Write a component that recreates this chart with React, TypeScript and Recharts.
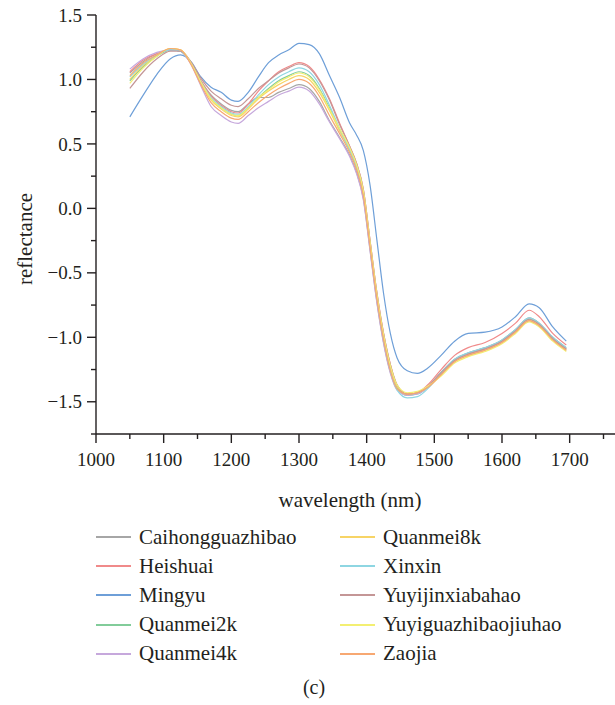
import { LineChart, Line, XAxis, YAxis, Label } from 'recharts';

const FONT = "'Liberation Serif', 'DejaVu Serif', serif";
const INK = '#231f20';

// wavelengths (nm)
const wavelengths = [
  1050, 1070, 1090, 1110, 1125, 1140, 1155, 1170, 1185, 1200, 1210, 1225, 1240, 1255, 1270, 1285, 1300, 1315, 1330, 1345,
  1360, 1375, 1385, 1395, 1405, 1415, 1425, 1435, 1445, 1460, 1475, 1490, 1510, 1530, 1550, 1575, 1600, 1620, 1640, 1655,
  1675, 1695
];

const caihongguazhibao = [
  1.05, 1.14, 1.2, 1.23, 1.22, 1.13, 0.99, 0.88, 0.81, 0.76, 0.75, 0.81, 0.86, 0.86, 0.9, 0.93, 0.96, 0.93, 0.83, 0.68,
  0.55, 0.41, 0.28, 0.08, -0.32, -0.72, -1.04, -1.27, -1.4, -1.44, -1.43, -1.38, -1.27, -1.17, -1.12, -1.08, -1.02, -0.94,
  -0.85, -0.89, -1.0, -1.08
];
const heishuai = [
  1.06, 1.15, 1.2, 1.23, 1.22, 1.13, 0.99, 0.87, 0.8, 0.75, 0.74, 0.81, 0.91, 0.99, 1.06, 1.1, 1.13, 1.1, 1.0, 0.85,
  0.66, 0.48, 0.35, 0.15, -0.25, -0.65, -0.97, -1.21, -1.37, -1.44, -1.43, -1.37, -1.25, -1.14, -1.08, -1.04, -0.97, -0.89,
  -0.79, -0.84, -0.97, -1.06
];
const mingyu = [
  0.71, 0.88, 1.04, 1.16, 1.19, 1.14, 1.02, 0.94, 0.9, 0.84, 0.83, 0.9, 1.02, 1.13, 1.19, 1.23, 1.28, 1.27, 1.2, 1.03,
  0.86, 0.66, 0.57, 0.45, 0.18, -0.24, -0.66, -0.97, -1.16, -1.26, -1.28, -1.24, -1.14, -1.03, -0.97, -0.96, -0.92, -0.84,
  -0.74, -0.77, -0.92, -1.03
];
const quanmei2k = [
  0.99, 1.1, 1.18, 1.23, 1.22, 1.13, 0.98, 0.85, 0.78, 0.73, 0.72, 0.78, 0.86, 0.93, 0.99, 1.03, 1.06, 1.03, 0.93, 0.78,
  0.61, 0.45, 0.32, 0.12, -0.28, -0.68, -1.0, -1.24, -1.39, -1.45, -1.44, -1.39, -1.28, -1.18, -1.13, -1.09, -1.03, -0.95,
  -0.86, -0.9, -1.01, -1.09
];
const quanmei4k = [
  1.08, 1.16, 1.21, 1.23, 1.22, 1.12, 0.95, 0.79, 0.72, 0.67, 0.66, 0.72, 0.78, 0.83, 0.88, 0.91, 0.94, 0.91, 0.81, 0.67,
  0.54, 0.4, 0.27, 0.07, -0.33, -0.73, -1.05, -1.28, -1.41, -1.45, -1.44, -1.39, -1.28, -1.18, -1.13, -1.09, -1.03, -0.95,
  -0.87, -0.91, -1.02, -1.1
];
const quanmei8k = [
  1.0, 1.11, 1.19, 1.24, 1.23, 1.13, 0.97, 0.84, 0.77, 0.72, 0.71, 0.77, 0.85, 0.91, 0.96, 1.0, 1.03, 1.0, 0.9, 0.76,
  0.6, 0.45, 0.32, 0.12, -0.28, -0.68, -1.0, -1.24, -1.38, -1.44, -1.43, -1.39, -1.29, -1.19, -1.14, -1.1, -1.04, -0.96,
  -0.87, -0.91, -1.02, -1.1
];
const xinxin = [
  1.02, 1.12, 1.19, 1.23, 1.22, 1.13, 0.98, 0.86, 0.79, 0.74, 0.73, 0.79, 0.88, 0.96, 1.02, 1.06, 1.09, 1.06, 0.96, 0.8,
  0.62, 0.45, 0.32, 0.12, -0.28, -0.69, -1.02, -1.26, -1.41, -1.47, -1.46, -1.4, -1.28, -1.17, -1.12, -1.08, -1.02, -0.94,
  -0.85, -0.89, -1.0, -1.08
];
const yuyijinxiabahao = [
  0.93, 1.06, 1.16, 1.22, 1.22, 1.14, 1.01, 0.91, 0.85, 0.8, 0.79, 0.85, 0.93, 0.99, 1.05, 1.09, 1.12, 1.09, 0.99, 0.84,
  0.65, 0.48, 0.35, 0.15, -0.25, -0.65, -0.97, -1.21, -1.37, -1.44, -1.43, -1.38, -1.28, -1.18, -1.13, -1.09, -1.03, -0.95,
  -0.86, -0.9, -1.01, -1.09
];
const yuyiguazhibaojiuhao = [
  0.97, 1.09, 1.18, 1.24, 1.23, 1.13, 0.98, 0.85, 0.78, 0.73, 0.72, 0.78, 0.86, 0.92, 0.98, 1.02, 1.05, 1.02, 0.92, 0.77,
  0.62, 0.47, 0.34, 0.14, -0.26, -0.66, -0.98, -1.22, -1.37, -1.43, -1.42, -1.38, -1.3, -1.2, -1.15, -1.11, -1.05, -0.97,
  -0.88, -0.92, -1.03, -1.11
];
const zaojia = [
  1.03, 1.13, 1.19, 1.24, 1.23, 1.12, 0.96, 0.82, 0.75, 0.7, 0.69, 0.75, 0.82, 0.88, 0.93, 0.97, 1.0, 0.97, 0.87, 0.72,
  0.58, 0.43, 0.3, 0.1, -0.3, -0.7, -1.02, -1.26, -1.4, -1.44, -1.43, -1.39, -1.29, -1.19, -1.14, -1.1, -1.04, -0.96,
  -0.87, -0.91, -1.02, -1.1
];

const seriesList = [
  { name: 'Caihongguazhibao', color: '#a6a6a6', values: caihongguazhibao },
  { name: 'Heishuai', color: '#f08a8a', values: heishuai },
  { name: 'Mingyu', color: '#6e9fd8', values: mingyu },
  { name: 'Quanmei2k', color: '#82cc9a', values: quanmei2k },
  { name: 'Quanmei4k', color: '#c6a8dc', values: quanmei4k },
  { name: 'Quanmei8k', color: '#f7d466', values: quanmei8k },
  { name: 'Xinxin', color: '#8ed6e2', values: xinxin },
  { name: 'Yuyijinxiabahao', color: '#c49696', values: yuyijinxiabahao },
  { name: 'Yuyiguazhibaojiuhao', color: '#f3ef72', values: yuyiguazhibaojiuhao },
  { name: 'Zaojia', color: '#f7a872', values: zaojia }
];

const xTicks = [1000, 1050, 1100, 1150, 1200, 1250, 1300, 1350, 1400, 1450, 1500, 1550, 1600, 1650, 1700, 1750];
const yTicks = [-1.75, -1.5, -1.25, -1.0, -0.75, -0.5, -0.25, 0, 0.25, 0.5, 0.75, 1.0, 1.25, 1.5];

const data = wavelengths.map((w, i) => {
  const row: Record<string, number> = { w };
  seriesList.forEach((s) => {
    row[s.name] = s.values[i];
  });
  return row;
});

function fmtY(v: number) {
  const s = Math.abs(v).toFixed(1);
  return v < 0 ? '\u2212' + s : s;
}

function YTick({ x, y, payload }: any) {
  const v = payload.value as number;
  const major = Math.abs(v * 2 - Math.round(v * 2)) < 1e-6;
  return (
    <g>
      <line x1={x - (major ? 9 : 5)} x2={x} y1={y} y2={y} stroke={INK} strokeWidth={1.4} />
      {major && (
        <text x={x - 14} y={y} dy="0.35em" textAnchor="end" style={{ fontFamily: FONT, fontSize: 19, fill: INK }}>
          {fmtY(v)}
        </text>
      )}
    </g>
  );
}

function XTick({ x, y, payload }: any) {
  const v = payload.value as number;
  const major = v % 100 === 0;
  return (
    <g>
      <line x1={x} x2={x} y1={y} y2={y + (major ? 9 : 5)} stroke={INK} strokeWidth={1.4} />
      {major && (
        <text x={x} y={y + 32} textAnchor="middle" style={{ fontFamily: FONT, fontSize: 19, fill: INK }}>
          {v}
        </text>
      )}
    </g>
  );
}

const textStyle = { fontFamily: FONT, fontSize: 21, fill: INK };

export default function App() {
  return (
    <div style={{ position: 'absolute', left: 0, top: 0, width: 615, height: 705, background: '#fff', fontFamily: FONT }}>
      <LineChart width={615} height={520} data={data} margin={{ top: 15, right: 0, left: 0, bottom: 0 }} style={{ fontFamily: FONT }}>
        <XAxis
          dataKey="w"
          type="number"
          domain={[1000, 1767]}
          allowDataOverflow
          ticks={xTicks}
          interval={0}
          tickSize={0}
          tickMargin={0}
          tick={<XTick />}
          height={86}
          axisLine={{ stroke: INK, strokeWidth: 1.4 }}
          tickLine={false}
        >
          <Label
            content={() => (
              <text x={350} y={507} textAnchor="middle" style={textStyle}>
                wavelength (nm)
              </text>
            )}
          />
        </XAxis>
        <YAxis
          type="number"
          domain={[-1.75, 1.5]}
          ticks={yTicks}
          interval={0}
          tickSize={0}
          tickMargin={0}
          tick={<YTick />}
          width={96}
          axisLine={{ stroke: INK, strokeWidth: 1.4 }}
          tickLine={false}
        >
          <Label
            content={() => (
              <text transform="translate(25,239) rotate(-90)" textAnchor="middle" dy="0.35em" style={textStyle}>
                reflectance
              </text>
            )}
          />
        </YAxis>
        {seriesList.map((s) => (
          <Line
            key={s.name}
            dataKey={s.name}
            type="monotone"
            stroke={s.color}
            strokeWidth={1.2}
            dot={false}
            isAnimationActive={false}
          />
        ))}
      </LineChart>
      {seriesList.map((s, i) => {
        const col = i < 5 ? 0 : 1;
        const row = i % 5;
        const left = col === 0 ? 96 : 340;
        const cy = 537 + row * 29.2;
        return (
          <div key={s.name} style={{ position: 'absolute', left, top: cy - 14, height: 28, display: 'flex', alignItems: 'center' }}>
            <div style={{ width: 35, height: 0, borderTop: `2.5px solid ${s.color}`, marginRight: 8 }} />
            <span style={{ fontSize: 21, color: INK, whiteSpace: 'nowrap', fontFamily: FONT }}>{s.name}</span>
          </div>
        );
      })}
      <div style={{ position: 'absolute', left: 0, width: 628, top: 676, textAlign: 'center', fontSize: 20, color: INK, fontFamily: FONT }}>
        (c)
      </div>
    </div>
  );
}
